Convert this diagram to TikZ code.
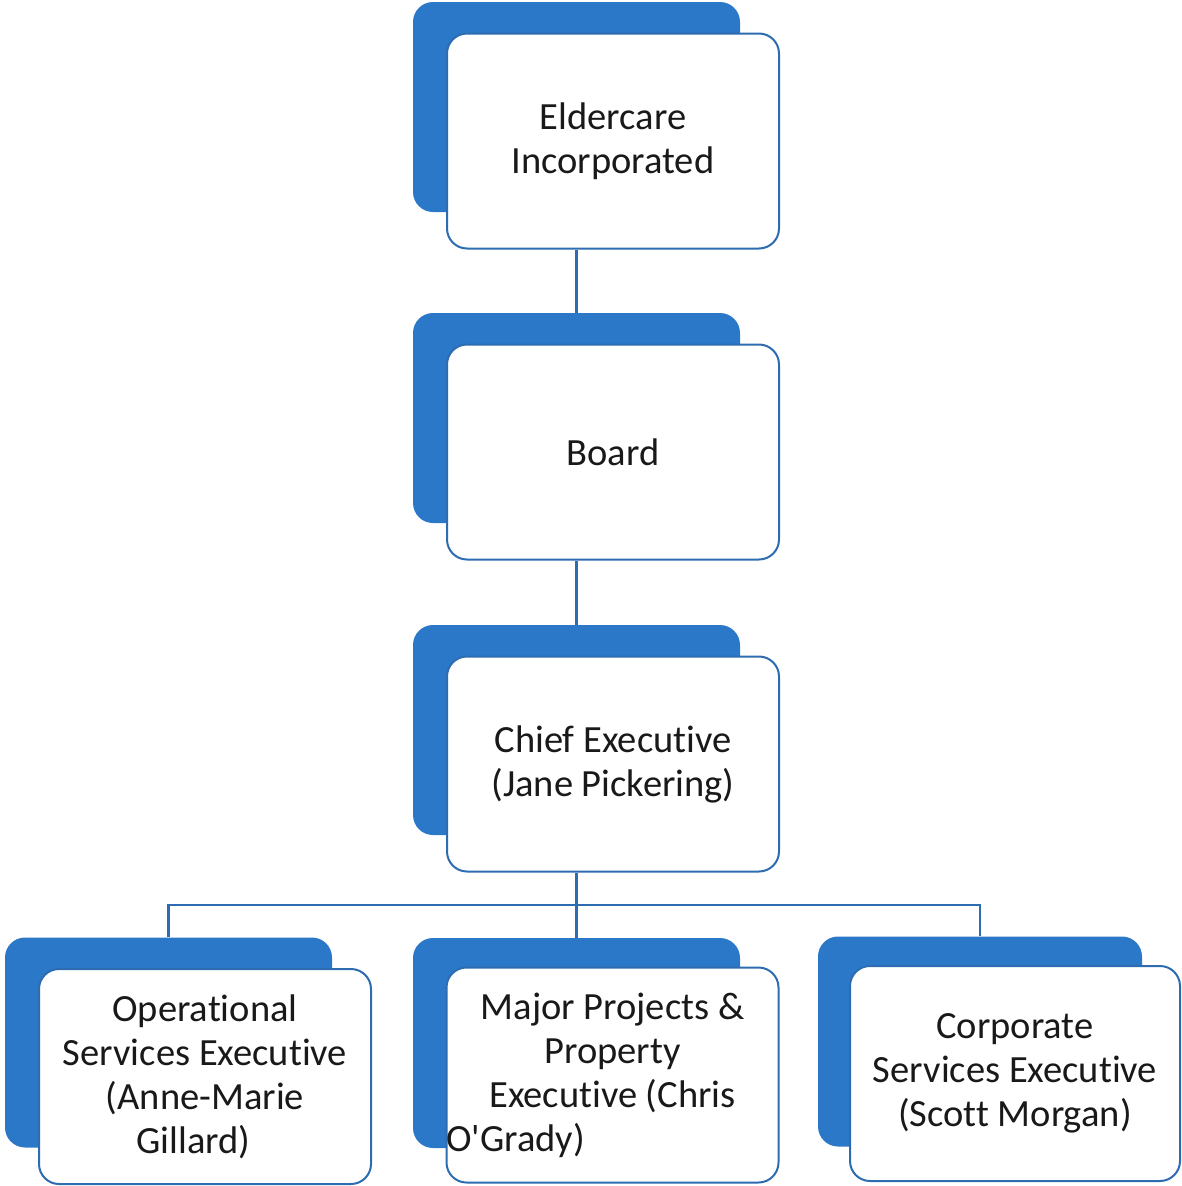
\documentclass[tikz,border=0pt]{standalone}
\usepackage{fontspec}
\setmainfont[Ligatures=NoCommon]{Carlito}
\usepackage{xcolor}
\usetikzlibrary{positioning}
\definecolor{cardblue}{RGB}{44,120,200}
\definecolor{edgeblue}{RGB}{46,108,178}

\tikzset{
  backcard/.style={rectangle, rounded corners=20pt, fill=cardblue, draw=none,
    minimum width=327pt, minimum height=210pt, inner sep=0pt},
  frontcard/.style={rectangle, rounded corners=20pt, fill=white, draw=edgeblue,
    line width=2pt, minimum width=332pt, minimum height=215pt, inner sep=2pt,
    align=center, font=\fontsize{38.5}{44}\selectfont, text=black!90},
  link/.style={draw=edgeblue, line width=2.5pt}
}

\begin{document}
\begin{tikzpicture}[x=1pt, y=-1pt]
    \useasboundingbox (0,0) rectangle (1182,1186);
    % top of the chart
    \node[backcard] (eldercareback) at (576.5,107) {};
    \node[frontcard] (eldercare) at ([shift={(36.5,34)}]eldercareback.center) {Eldercare\\Incorporated};
    % board
    \node[backcard] (boardback) at (576.5,418) {};
    \node[frontcard] (board) at ([shift={(36.5,34)}]boardback.center) {Board};
    % chief executive
    \node[backcard] (chiefback) at (576.5,730) {};
    \node[frontcard] (chief) at ([shift={(36.5,34)}]chiefback.center) {Chief Executive\\(Jane Pickering)};
    % executives
    \node[backcard] (opsback) at (168.5,1042.5) {};
    \node[frontcard] (ops) at ([shift={(36.5,34)}]opsback.center) {Operational\\Services Executive\\(Anne-Marie\\Gillard)\hspace*{0.6em}};
    \node[backcard] (majorback) at (576.5,1043) {};
    \node[frontcard] (major) at ([shift={(36,32)}]majorback.center) {Major Projects \&\\Property\\Executive (Chris\\\hspace*{-1.52em}O\textquotesingle Grady)\hspace*{3.52em}};
    \node[backcard, minimum width=324pt] (corpback) at (980,1041.5) {};
    \node[frontcard, minimum width=330pt] (corp) at ([shift={(35,32)}]corpback.center) {Corporate\\Services Executive\\(Scott Morgan)};
    % connectors
    \draw[link] (eldercareback.south |- eldercare.south) -- (boardback.north);
    \draw[link] (boardback.south |- board.south) -- (chiefback.north);
    \coordinate (branch) at (576.5,905);
    \draw[link] (chiefback.south |- chief.south) -- (branch);
    \draw[link] (opsback.north) |- (branch) -| (corpback.north);
    \draw[link] (branch) -- (majorback.north);
\end{tikzpicture}
\end{document}
